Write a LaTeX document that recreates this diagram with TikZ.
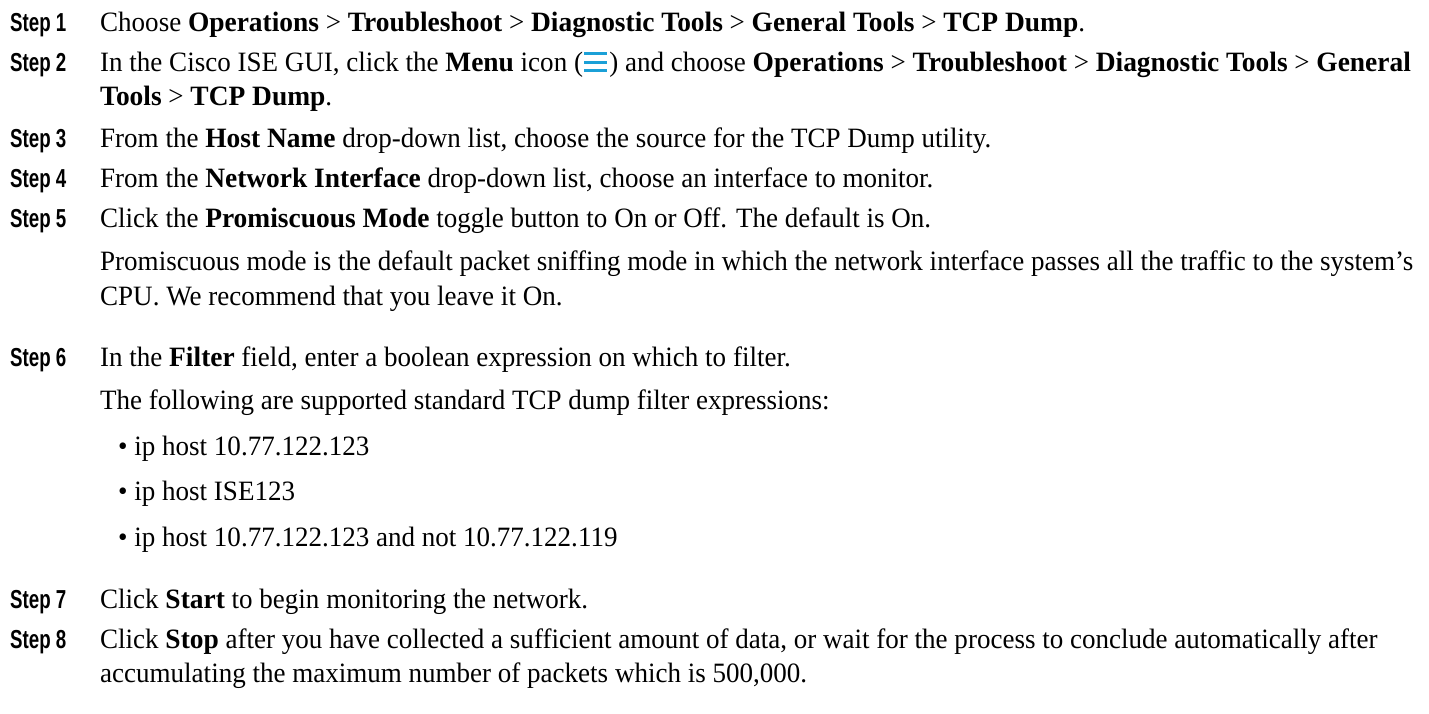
\documentclass[tikz,border=0pt]{standalone}
\usepackage{fontspec}
\setmainfont{Liberation Serif}[FakeStretch=0.965]
\newfontfamily\bfont{Liberation Serif Bold}[FakeStretch=0.98]
\newcommand\bw[1]{{\bfont #1}}
\newfontfamily\stepfont{Liberation Sans Bold}[FakeStretch=0.72]
\definecolor{menublue}{HTML}{1BA0D7}
\tikzset{
  txt/.style={anchor=base west, inner sep=0pt, font=\fontsize{28}{34}\selectfont},
  steplbl/.style={anchor=base west, inner sep=0pt, font=\fontsize{26}{30}\stepfont},
  bar/.style={draw=menublue, line width=3pt}
}
\begin{document}
\begin{tikzpicture}[x=1pt,y=-1pt]
\useasboundingbox (0,0) rectangle (1429,713);
\def\tx{100}
% Step 1
\node[steplbl] (s1) at (10,31) {Step 1};
\node[txt] (t1) at (\tx,31) {Choose \bw{Operations} > \bw{Troubleshoot} > \bw{Diagnostic Tools} > \bw{General Tools} > \bw{TCP Dump}.};
% Step 2
\node[steplbl] (s2) at (10,71) {Step 2};
\node[txt] (t2a) at (\tx,71) {In the Cisco ISE GUI, click the \bw{Menu} icon (};
\coordinate (ic) at ([xshift=1pt]t2a.base east);
\draw[bar] ([yshift=17.5pt]ic) -- ++(23,0);
\draw[bar] ([yshift=9pt]ic) -- ++(23,0);
\draw[bar] ([yshift=0.5pt]ic) -- ++(23,0);
\node[txt] (t2b) at ([xshift=25pt]ic) {) and choose \bw{Operations} > \bw{Troubleshoot} > \bw{Diagnostic Tools} > \bw{General}};
\node[txt] (t2c) at (\tx,105) {\bw{Tools} > \bw{TCP Dump}.};
% Step 3
\node[steplbl] (s3) at (10,147) {Step 3};
\node[txt] (t3) at (\tx,147) {From the \bw{Host Name} drop-down list, choose the source for the TCP Dump utility.};
% Step 4
\node[steplbl] (s4) at (10,187) {Step 4};
\node[txt] (t4) at (\tx,187) {From the \bw{Network Interface} drop-down list, choose an interface to monitor.};
% Step 5
\node[steplbl] (s5) at (10,227) {Step 5};
\node[txt] (t5) at (\tx,227) {Click the \bw{Promiscuous Mode} toggle button to On or Off. The default is On.};
\node[txt] (t5b) at (\tx,270) {Promiscuous mode is the default packet sniffing mode in which the network interface passes all the traffic to the system’s};
\node[txt] (t5c) at (\tx,305) {CPU. We recommend that you leave it On.};
% Step 6
\node[steplbl] (s6) at (10,366) {Step 6};
\node[txt] (t6) at (\tx,366) {In the \bw{Filter} field, enter a boolean expression on which to filter.};
\node[txt] (t6b) at (\tx,409) {The following are supported standard TCP dump filter expressions:};
\node[txt] (b1) at (118,455) {• ip host 10.77.122.123};
\node[txt] (b2) at (118,500) {• ip host ISE123};
\node[txt] (b3) at (118,546) {• ip host 10.77.122.123 and not 10.77.122.119};
% Step 7
\node[steplbl] (s7) at (10,608) {Step 7};
\node[txt] (t7) at (\tx,608) {Click \bw{Start} to begin monitoring the network.};
% Step 8
\node[steplbl] (s8) at (10,648) {Step 8};
\node[txt] (t8) at (\tx,648) {Click \bw{Stop} after you have collected a sufficient amount of data, or wait for the process to conclude automatically after};
\node[txt] (t8b) at (\tx,682) {accumulating the maximum number of packets which is 500,000.};
\end{tikzpicture}
\end{document}
